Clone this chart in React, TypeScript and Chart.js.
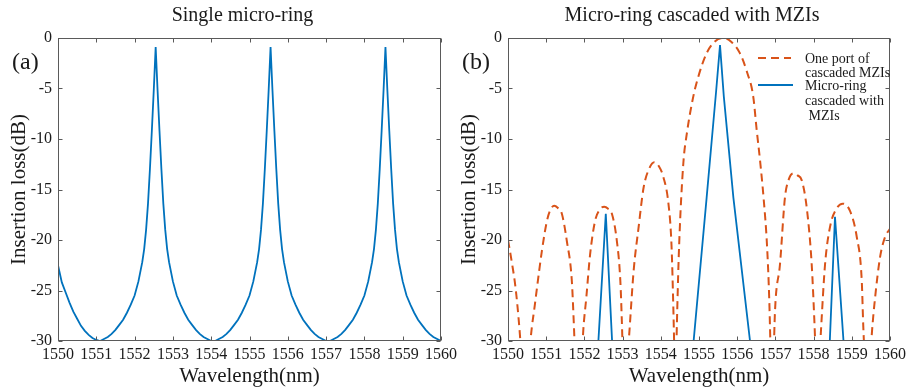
import React, { useEffect, useRef } from "react";
import { Chart, registerables } from "chart.js";

Chart.register(...registerables);

const FONT = '"Liberation Serif", "Times New Roman", Times, serif';
const BLUE = "#0072BD";
const ORANGE = "#D95319";
const AXIS = "#5a5a5a";
const TEXT = "#1a1a1a";

// ---- ticks & text ----
const xTicks = [1550, 1551, 1552, 1553, 1554, 1555, 1556, 1557, 1558, 1559, 1560];
const yTicks = [0, -5, -10, -15, -20, -25, -30];
const titles = ["Single micro-ring", "Micro-ring cascaded with MZIs"];
const panels = ["(a)", "(b)"];
const xTitle = "Wavelength(nm)";
const yTitle = "Insertion loss(dB)";
const legendMzi = ["One port of", "cascaded MZIs"];
const legendCasc = ["Micro-ring", "cascaded with", " MZIs"];

// ---- (a) single micro-ring ----
const ringWl = [
  1550.0, 1550.1, 1550.2, 1550.3, 1550.4, 1550.5, 1550.6, 1550.7, 1550.8, 1550.9, 1551.0, 1551.1,
  1551.2, 1551.3, 1551.4, 1551.5, 1551.6, 1551.7, 1551.8, 1551.9, 1552.0, 1552.1, 1552.2,
  1552.25, 1552.3, 1552.35, 1552.4, 1552.45, 1552.5, 1552.55, 1552.6, 1552.65, 1552.7, 1552.75, 1552.8, 1552.85, 1552.9,
  1553.0, 1553.1, 1553.2, 1553.3, 1553.4, 1553.5, 1553.6, 1553.7, 1553.8, 1553.9, 1554.0, 1554.1,
  1554.2, 1554.3, 1554.4, 1554.5, 1554.6, 1554.7, 1554.8, 1554.9, 1555.0, 1555.1, 1555.2,
  1555.25, 1555.3, 1555.35, 1555.4, 1555.45, 1555.5, 1555.55, 1555.6, 1555.65, 1555.7, 1555.75, 1555.8, 1555.85, 1555.9,
  1556.0, 1556.1, 1556.2, 1556.3, 1556.4, 1556.5, 1556.6, 1556.7, 1556.8, 1556.9, 1557.0, 1557.1,
  1557.2, 1557.3, 1557.4, 1557.5, 1557.6, 1557.7, 1557.8, 1557.9, 1558.0, 1558.1, 1558.2,
  1558.25, 1558.3, 1558.35, 1558.4, 1558.45, 1558.5, 1558.55, 1558.6, 1558.65, 1558.7, 1558.75, 1558.8, 1558.85, 1558.9,
  1559.0, 1559.1, 1559.2, 1559.3, 1559.4, 1559.5, 1559.6, 1559.7, 1559.8, 1559.9, 1560.0,
];
const ringLoss = [
  -22.5, -24.2, -25.2, -26.2, -27.1, -27.8, -28.5, -29.0, -29.4, -29.7, -29.9, -30.0,
  -29.8, -29.6, -29.3, -28.9, -28.4, -27.9, -27.2, -26.4, -25.5, -24.1, -22.2,
  -20.9, -19.0, -16.4, -13.0, -9.2, -5.2, -0.9, -5.2, -9.2, -13.0, -16.4, -19.0, -20.9, -22.2,
  -24.1, -25.5, -26.4, -27.2, -27.9, -28.4, -28.9, -29.3, -29.6, -29.8, -30.0, -30.0,
  -29.8, -29.6, -29.3, -28.9, -28.4, -27.9, -27.2, -26.4, -25.5, -24.1, -22.2,
  -20.9, -19.0, -16.4, -13.0, -9.2, -5.2, -0.9, -5.2, -9.2, -13.0, -16.4, -19.0, -20.9, -22.2,
  -24.1, -25.5, -26.4, -27.2, -27.9, -28.4, -28.9, -29.3, -29.6, -29.8, -30.0, -30.0,
  -29.8, -29.6, -29.3, -28.9, -28.4, -27.9, -27.2, -26.4, -25.5, -24.1, -22.2,
  -20.9, -19.0, -16.4, -13.0, -9.2, -5.2, -0.9, -5.2, -9.2, -13.0, -16.4, -19.0, -20.9, -22.2,
  -24.1, -25.5, -26.4, -27.2, -27.9, -28.4, -28.9, -29.3, -29.6, -29.8, -30.0,
];

// ---- (b) one port of cascaded MZIs (null = break below the axis) ----
const mziWl = [
  1550.0, 1550.1, 1550.2, 1550.3, 1550.36, 1550.45,
  1550.55, 1550.6, 1550.7, 1550.76, 1550.89, 1551.02, 1551.1, 1551.21, 1551.3, 1551.41, 1551.54, 1551.67, 1551.72, 1551.76, 1551.85,
  1551.93, 1551.97, 1552.05, 1552.15, 1552.28, 1552.4, 1552.52, 1552.62, 1552.72, 1552.85, 1552.94, 1552.98, 1553.01, 1553.07,
  1553.12, 1553.17, 1553.29, 1553.42, 1553.55, 1553.7, 1553.83, 1553.95, 1554.07, 1554.2, 1554.28, 1554.33, 1554.36, 1554.38,
  1554.4, 1554.43, 1554.48, 1554.59, 1554.68, 1554.85, 1555.0, 1555.2, 1555.4, 1555.64, 1555.85, 1556.07, 1556.25, 1556.42, 1556.51, 1556.6, 1556.69, 1556.78, 1556.84, 1556.88, 1556.92,
  1556.95, 1556.99, 1557.12, 1557.25, 1557.35, 1557.47, 1557.58, 1557.69, 1557.82, 1557.95, 1558.02, 1558.06, 1558.1,
  1558.15, 1558.2, 1558.3, 1558.43, 1558.6, 1558.76, 1558.95, 1559.13, 1559.26, 1559.3, 1559.34, 1559.41,
  1559.48, 1559.53, 1559.61, 1559.74, 1559.87, 1560.0,
];
const mziLoss = [
  -20.0, -22.2, -24.8, -28.8, -32.0, null,
  -32.0, -29.5, -26.5, -24.7, -21.0, -18.1, -17.1, -16.6, -16.8, -17.4, -20.1, -24.0, -28.0, -32.0, null,
  -32.0, -29.0, -25.7, -21.4, -18.1, -17.0, -16.7, -16.9, -17.4, -20.1, -24.0, -28.0, -32.0, null,
  -32.0, -29.5, -23.0, -18.7, -14.8, -12.9, -12.3, -12.7, -13.8, -16.4, -20.5, -27.0, -32.0, null,
  -32.0, -27.0, -20.5, -12.4, -9.5, -5.8, -3.6, -1.5, -0.4, 0.0, -0.4, -1.5, -3.3, -5.8, -9.1, -12.2, -15.8, -20.5, -26.0, -32.0, null,
  -32.0, -27.0, -22.4, -15.8, -14.0, -13.4, -13.6, -14.1, -16.8, -22.4, -28.0, -32.0, null,
  -32.0, -28.5, -22.4, -18.7, -16.9, -16.4, -17.1, -19.7, -24.0, -28.5, -32.0, null,
  -32.0, -29.0, -25.7, -21.7, -19.7, -18.9,
];

// ---- (b) micro-ring cascaded with MZIs ----
const cascWl = [1552.36, 1552.56, 1552.73, 1553.5, 1554.84, 1555.2, 1555.45, 1555.55, 1555.65, 1555.9, 1556.36, 1557.5, 1558.42, 1558.56, 1558.79];
const cascLoss = [-30.4, -17.4, -30.4, null, -30.8, -15.8, -5.2, -0.7, -5.8, -15.8, -30.8, null, -30.4, -17.7, -30.4];

const pts = (xs: number[], ys: (number | null)[]) => xs.map((x, i) => ({ x, y: ys[i] }));

function framePlugin(title: string, panel: string, withLegend: boolean) {
  return {
    id: "frame",
    afterDatasetsDraw(chart: any) {
      const { ctx, chartArea: a } = chart;
      const xs = chart.scales.x;
      const ys = chart.scales.y;
      ctx.save();
      ctx.strokeStyle = AXIS;
      ctx.lineWidth = 1;
      const L = Math.round(a.left) + 0.5;
      const R = Math.round(a.right) - 0.5;
      const T = Math.round(a.top) + 0.5;
      const B = Math.round(a.bottom) - 0.5;
      ctx.strokeRect(L, T, R - L, B - T);
      const tl = 4;
      ctx.beginPath();
      xs.ticks.forEach((t: any) => {
        const px = Math.round(xs.getPixelForValue(t.value)) + 0.5;
        ctx.moveTo(px, B); ctx.lineTo(px, B - tl);
        ctx.moveTo(px, T); ctx.lineTo(px, T + tl);
      });
      ys.ticks.forEach((t: any) => {
        const py = Math.round(ys.getPixelForValue(t.value)) + 0.5;
        ctx.moveTo(L, py); ctx.lineTo(L + tl, py);
        ctx.moveTo(R, py); ctx.lineTo(R - tl, py);
      });
      ctx.stroke();

      ctx.fillStyle = TEXT;
      ctx.textBaseline = "alphabetic";
      ctx.font = `20px ${FONT}`;
      ctx.textAlign = "center";
      ctx.fillText(title, (a.left + a.right) / 2 - 7, 21);
      ctx.font = `24px ${FONT}`;
      ctx.textAlign = "left";
      ctx.fillText(panel, 12, 69);

      if (withLegend) {
        const x0 = a.right - 132;
        const x1 = a.right - 99;
        const tx = a.right - 85;
        ctx.lineWidth = 2;
        ctx.strokeStyle = ORANGE;
        ctx.setLineDash([8, 5]);
        ctx.beginPath();
        ctx.moveTo(x0, a.top + 20);
        ctx.lineTo(x1, a.top + 20);
        ctx.stroke();
        ctx.setLineDash([]);
        ctx.strokeStyle = BLUE;
        ctx.beginPath();
        ctx.moveTo(x0, a.top + 47);
        ctx.lineTo(x1 + 2, a.top + 47);
        ctx.stroke();
        ctx.font = `14px ${FONT}`;
        ctx.fillStyle = TEXT;
        ctx.fillText(legendMzi[0], tx, a.top + 25);
        ctx.fillText(legendMzi[1], tx, a.top + 39);
        ctx.fillText(legendCasc[0], tx, a.top + 52);
        ctx.fillText(legendCasc[1], tx, a.top + 67);
        ctx.fillText(legendCasc[2], tx, a.top + 82);
      }
      ctx.restore();
    },
  };
}

function makeOptions(rightPad: number): any {
  return {
    responsive: false,
    animation: false,
    events: [],
    layout: { padding: { left: 0, right: rightPad, top: 38, bottom: 0 } },
    plugins: { legend: { display: false }, tooltip: { enabled: false }, title: { display: false } },
    elements: { point: { radius: 0 }, line: { tension: 0 } },
    scales: {
      x: {
        type: "linear",
        min: 1550,
        max: 1560,
        grid: { display: false, drawTicks: false },
        border: { display: false },
        afterBuildTicks: (s: any) => { s.ticks = xTicks.map((v) => ({ value: v })); },
        afterFit: (s: any) => { s.height = 50; s.paddingLeft = 0; s.paddingRight = 0; },
        ticks: { font: { family: FONT, size: 16 }, color: TEXT, padding: 4, maxRotation: 0, minRotation: 0, autoSkip: false, callback: (v: any) => String(v) },
        title: { display: true, text: xTitle, color: TEXT, font: { family: FONT, size: 21, lineHeight: 1.2 }, padding: { top: 0, bottom: 2 } },
      },
      y: {
        type: "linear",
        min: -30,
        max: 0,
        grid: { display: false, drawTicks: false },
        border: { display: false },
        afterBuildTicks: (s: any) => { s.ticks = yTicks.map((v) => ({ value: v })); },
        afterFit: (s: any) => { s.width = 58; s.paddingTop = 0; s.paddingBottom = 0; },
        ticks: { font: { family: FONT, size: 16 }, color: TEXT, padding: 6, autoSkip: false, callback: (v: any) => String(v) },
        title: { display: true, text: yTitle, color: TEXT, font: { family: FONT, size: 21, lineHeight: 1.2 }, padding: { top: 7, bottom: 0 } },
      },
    },
  };
}

function buildLeft(): any {
  return {
    type: "line",
    data: {
      datasets: [
        { label: "Single micro-ring", data: pts(ringWl, ringLoss), borderColor: BLUE, borderWidth: 1.8, clip: 0, fill: false },
      ],
    },
    options: makeOptions(21),
    plugins: [framePlugin(titles[0], panels[0], false)],
  };
}

function buildRight(): any {
  return {
    type: "line",
    data: {
      datasets: [
        { label: "Micro-ring cascaded with MZIs", data: pts(cascWl, cascLoss), borderColor: BLUE, borderWidth: 1.8, clip: 0, spanGaps: false, fill: false },
        { label: "One port of cascaded MZIs", data: pts(mziWl, mziLoss), borderColor: ORANGE, borderWidth: 2, borderDash: [8, 5], clip: 0, spanGaps: false, fill: false, cubicInterpolationMode: "monotone" },
      ],
    },
    options: makeOptions(17),
    plugins: [framePlugin(titles[1], panels[1], true)],
  };
}

function ChartCanvas({ left, width, build }: { left: number; width: number; build: () => any }) {
  const ref = useRef<HTMLCanvasElement>(null);
  useEffect(() => {
    const chart = new Chart(ref.current as HTMLCanvasElement, build());
    return () => chart.destroy();
  }, []);
  return (
    <canvas
      ref={ref}
      width={width}
      height={391}
      style={{ position: "absolute", left, top: 0, width, height: 391 }}
    />
  );
}

export default function App() {
  return (
    <div style={{ position: "fixed", left: 0, top: 0, width: 907, height: 391, background: "#fff", overflow: "hidden" }}>
      <ChartCanvas left={0} width={462} build={buildLeft} />
      <ChartCanvas left={450} width={457} build={buildRight} />
    </div>
  );
}
